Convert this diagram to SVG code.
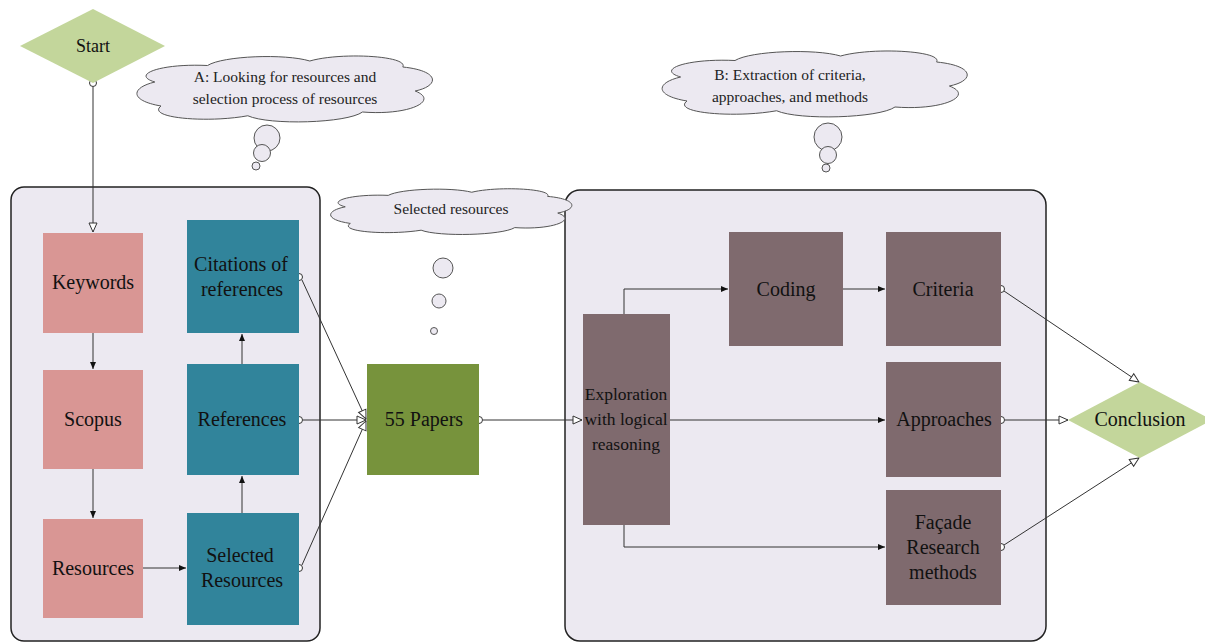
<svg xmlns="http://www.w3.org/2000/svg" xmlns:xlink="http://www.w3.org/1999/xlink" width="1205" height="644" viewBox="0 0 1205 644">
<style>
.lbl{font-family:'Liberation Serif','DejaVu Serif','Noto Serif',serif;font-size:20px;fill:#111;text-anchor:middle}
.sm{font-size:17.5px}
.cl{font-family:'Liberation Serif','DejaVu Serif','Noto Serif',serif;font-size:15.5px;fill:#222;text-anchor:middle}
.cont{fill:#ece9f1;stroke:#222;stroke-width:1.5}
.pink{fill:#d99694}
.teal{fill:#31849b}
.green{fill:#77933c}
.mauve{fill:#7f6a6e}
.dia{fill:#c3d69b}
.cloud{fill:#ece9f1;stroke:#555;stroke-width:1}
.bub{fill:#ece9f1;stroke:#555;stroke-width:1}
.ln{fill:none;stroke:#333;stroke-width:1}
.dot{fill:#fff;stroke:#333;stroke-width:1}
</style>
<defs>
<path id="cloudShape" vector-effect="non-scaling-stroke" d="M 8,40 C 0,30 10,15 25,18 C 30,5 50,2 58,12 C 68,0 90,5 88,20 C 100,25 100,45 92,52 C 100,65 90,85 75,80 C 70,95 45,98 38,85 C 25,95 5,88 10,72 C 0,65 0,48 8,40 Z"/>
<marker id="open" markerWidth="12" markerHeight="12" refX="10" refY="5" orient="auto" markerUnits="userSpaceOnUse" viewBox="0 0 12 10">
<path d="M1,1 L10,5 L1,9 Z" fill="#fff" stroke="#333" stroke-width="1"/>
</marker>
<marker id="fill" markerWidth="8" markerHeight="8" refX="7" refY="4" orient="auto" markerUnits="userSpaceOnUse" viewBox="0 0 8 8">
<path d="M0,1 L7,4 L0,7 Z" fill="#111"/>
</marker>
</defs>

<g id="containerA"><rect class="cont" x="11" y="187" width="309" height="454" rx="13"/></g>
<g id="containerB"><rect class="cont" x="565" y="190" width="481" height="451" rx="15"/></g>

<g id="cloudA">
<use xlink:href="#cloudShape" class="cloud" transform="translate(130,52) scale(3.1,0.75)"/>
<text class="cl" x="285" y="82">A: Looking for resources and</text>
<text class="cl" x="285" y="104">selection process of resources</text>
<circle class="bub" cx="267" cy="138" r="13"/>
<circle class="bub" cx="262" cy="153" r="8.5"/>
<circle class="bub" cx="256" cy="166" r="4"/>
</g>
<g id="cloudB">
<use xlink:href="#cloudShape" class="cloud" transform="translate(655,47) scale(3.2,0.75)"/>
<text class="cl" x="790" y="80">B: Extraction of criteria,</text>
<text class="cl" x="790" y="102">approaches, and methods</text>
<circle class="bub" cx="828" cy="137" r="14"/>
<circle class="bub" cx="828" cy="155" r="8.5"/>
<circle class="bub" cx="826" cy="168" r="4"/>
</g>
<g id="cloudSel">
<use xlink:href="#cloudShape" class="cloud" transform="translate(325,186) scale(2.53,0.52)"/>
<text class="cl" x="451" y="214">Selected resources</text>
<circle class="bub" cx="443" cy="268" r="10"/>
<circle class="bub" cx="439" cy="301" r="7"/>
<circle class="bub" cx="434" cy="331" r="3.5"/>
</g>

<g id="connectors">
<line class="ln" x1="93" y1="87" x2="93" y2="232" marker-end="url(#open)"/>
<line class="ln" x1="93" y1="333" x2="93" y2="369" marker-end="url(#fill)"/>
<line class="ln" x1="93" y1="469" x2="93" y2="518" marker-end="url(#fill)"/>
<line class="ln" x1="143" y1="568" x2="186" y2="568" marker-end="url(#fill)"/>
<line class="ln" x1="242" y1="513" x2="242" y2="476" marker-end="url(#fill)"/>
<line class="ln" x1="242" y1="364" x2="242" y2="334" marker-end="url(#fill)"/>
<line class="ln" x1="302" y1="280" x2="366" y2="419" marker-end="url(#open)"/>
<line class="ln" x1="303" y1="420" x2="366" y2="420" marker-end="url(#open)"/>
<line class="ln" x1="302" y1="565" x2="366" y2="421" marker-end="url(#open)"/>
<line class="ln" x1="483" y1="420" x2="582" y2="420" marker-end="url(#open)"/>
<polyline class="ln" points="624,314 624,289 728,289" marker-end="url(#fill)"/>
<line class="ln" x1="843" y1="289" x2="885" y2="289" marker-end="url(#fill)"/>
<line class="ln" x1="670" y1="420" x2="885" y2="420" marker-end="url(#fill)"/>
<polyline class="ln" points="624,525 624,547 885,547" marker-end="url(#fill)"/>
<line class="ln" x1="1004" y1="291" x2="1139" y2="382" marker-end="url(#open)"/>
<line class="ln" x1="1005" y1="420" x2="1068" y2="420" marker-end="url(#open)"/>
<line class="ln" x1="1004" y1="545" x2="1139" y2="458" marker-end="url(#open)"/>
<circle class="dot" cx="93" cy="83" r="3.5"/>
<circle class="dot" cx="299" cy="277" r="3.5"/>
<circle class="dot" cx="299" cy="420" r="3.5"/>
<circle class="dot" cx="299" cy="568" r="3.5"/>
<circle class="dot" cx="479" cy="420" r="3.5"/>
<circle class="dot" cx="1001" cy="289" r="3.5"/>
<circle class="dot" cx="1001" cy="420" r="3.5"/>
<circle class="dot" cx="1001" cy="547" r="3.5"/>
</g>

<g id="start"><polygon class="dia" points="20,46 93,9 165,46 93,83"/><text class="lbl" x="93" y="52" style="font-size:18px">Start</text></g>
<g id="keywords"><rect class="pink" x="43" y="233" width="100" height="100"/><text class="lbl" x="93" y="289">Keywords</text></g>
<g id="scopus"><rect class="pink" x="43" y="370" width="100" height="99"/><text class="lbl" x="93" y="426">Scopus</text></g>
<g id="resources"><rect class="pink" x="43" y="519" width="100" height="99"/><text class="lbl" x="93" y="575">Resources</text></g>
<g id="citations"><rect class="teal" x="187" y="220" width="112" height="113"/><text class="lbl" x="241" y="271">Citations of</text><text class="lbl" x="242" y="296">references</text></g>
<g id="references"><rect class="teal" x="187" y="364" width="112" height="111"/><text class="lbl" x="242" y="426">References</text></g>
<g id="selected"><rect class="teal" x="187" y="513" width="112" height="112"/><text class="lbl" x="240" y="562">Selected</text><text class="lbl" x="242" y="587">Resources</text></g>
<g id="papers"><rect class="green" x="367" y="364" width="112" height="111"/><text class="lbl" x="424" y="426">55 Papers</text></g>
<g id="exploration"><rect class="mauve" x="583" y="314" width="87" height="211"/><text class="lbl sm" x="626" y="400">Exploration</text><text class="lbl sm" x="626" y="425">with logical</text><text class="lbl sm" x="626" y="450">reasoning</text></g>
<g id="coding"><rect class="mauve" x="729" y="232" width="114" height="114"/><text class="lbl" x="786" y="296">Coding</text></g>
<g id="criteria"><rect class="mauve" x="886" y="232" width="115" height="114"/><text class="lbl" x="943" y="296">Criteria</text></g>
<g id="approaches"><rect class="mauve" x="886" y="362" width="115" height="115"/><text class="lbl" x="944" y="426">Approaches</text></g>
<g id="facade"><rect class="mauve" x="886" y="490" width="115" height="115"/><text class="lbl" x="943" y="529">Façade</text><text class="lbl" x="943" y="554">Research</text><text class="lbl" x="943" y="579">methods</text></g>
<g id="conclusion"><polygon class="dia" points="1068,420 1140,382 1212,420 1140,458"/><text class="lbl" x="1140" y="426">Conclusion</text></g>
</svg>
